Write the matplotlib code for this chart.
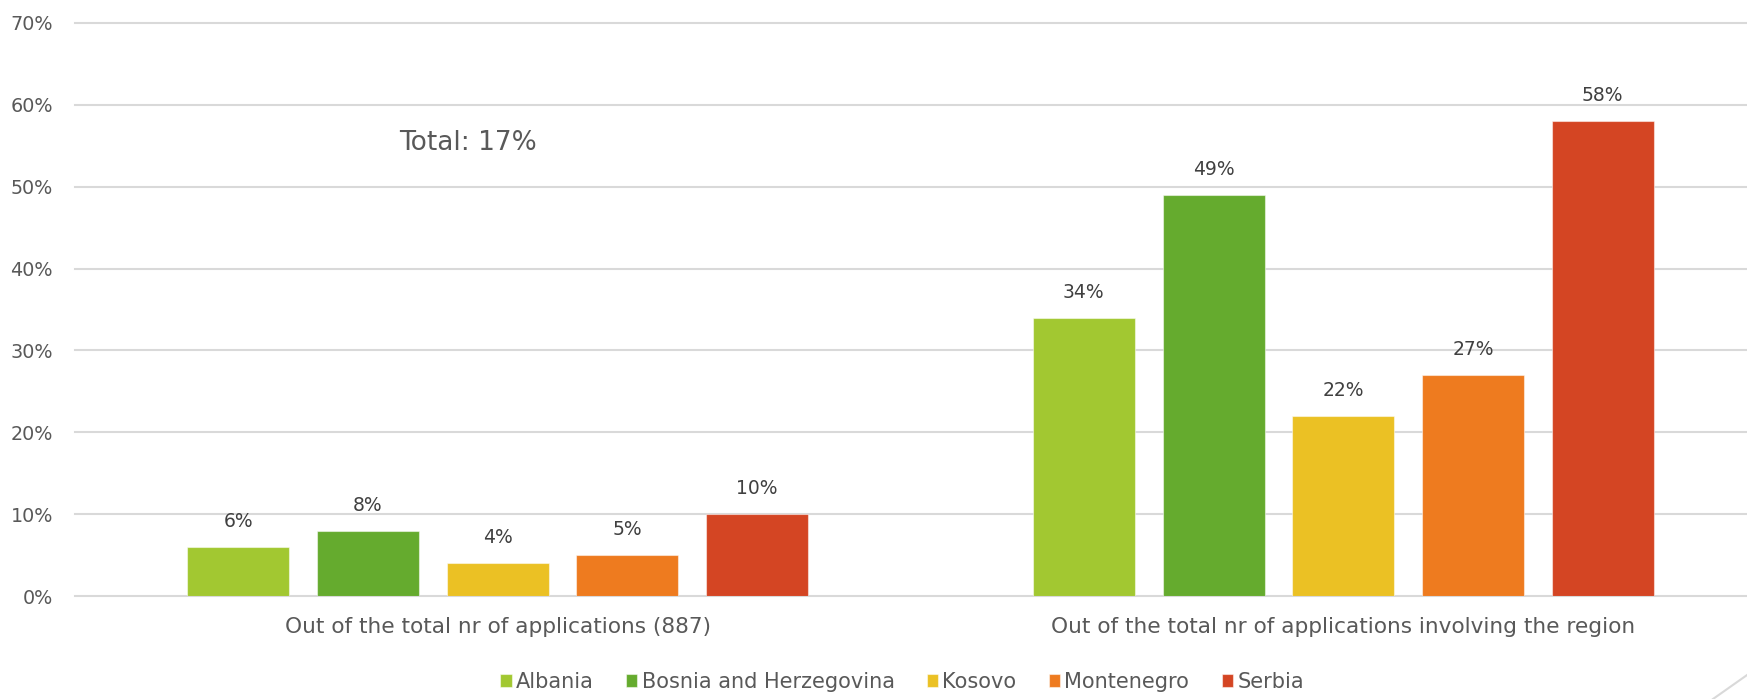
import matplotlib
matplotlib.use("Agg")
import matplotlib.pyplot as plt
from matplotlib import font_manager as fm
from matplotlib.lines import Line2D
import numpy as np

# ---- data ----
categories = ["Out of the total nr of applications (887)",
              "Out of the total nr of applications involving the region"]
countries = ["Albania", "Bosnia and Herzegovina", "Kosovo", "Montenegro", "Serbia"]
albania = [0.06, 0.34]
bosnia = [0.08, 0.49]
kosovo = [0.04, 0.22]
montenegro = [0.05, 0.27]
serbia = [0.10, 0.58]
series = [albania, bosnia, kosovo, montenegro, serbia]
colors = ["#A2C831", "#65AB2E", "#EBC124", "#EE7B1F", "#D44523"]
yticks = [0, 0.1, 0.2, 0.3, 0.4, 0.5, 0.6, 0.7]
total_note = "Total: 17%"

# ---- font ----
plt.rcParams["font.family"] = ["DejaVu Sans"]

W, H = 1747, 699
fig = plt.figure(figsize=(W / 100, H / 100), dpi=100)
ax_left = 75 / W
ax_bottom = (H - 596) / H
ax_top = (H - 23) / H
ax = fig.add_axes([ax_left, ax_bottom, 1 - ax_left, ax_top - ax_bottom])

pitch = 0.1534
width = 0.1206
x = np.arange(len(categories))
for i, (vals, c, name) in enumerate(zip(series, colors, countries)):
    pos = x + (i - 2) * pitch
    bars = ax.bar(pos, vals, width=width, color=c, label=name,
                  edgecolor=(1, 1, 1, 0.5), linewidth=0.8, zorder=3)
    for b, v in zip(bars, vals):
        ax.annotate(f"{round(v*100)}%", (b.get_x() + b.get_width() / 2, v),
                    xytext=(0, 11.5), textcoords="offset points",
                    ha="center", va="bottom", fontsize=13.5, color="#404040")

ax.set_xlim(-0.5, -0.5 + (W - 75) / 845.5)
ax.set_ylim(0, 0.7)
ax.set_yticks(yticks)
ax.set_yticklabels([f"{int(round(t*100))}%" for t in yticks], fontsize=13.8, color="#595959")
ax.set_xticks(x)
ax.set_xticklabels(categories, fontsize=15.6, color="#595959")
ax.tick_params(axis="x", length=0, pad=15)
ax.tick_params(axis="y", length=0, pad=16)
for s in ax.spines.values():
    s.set_visible(False)
ax.yaxis.grid(True, color="#D9D9D9", linewidth=1.5, zorder=0)
for gl in ax.get_ygridlines():
    gl.set_clip_on(False)
ax.set_axisbelow(True)

fig.text(399 / W, (H - 143) / H, total_note, fontsize=19, color="#595959",
         ha="left", va="center")

fig.legend(loc="center", bbox_to_anchor=(902 / W, 17 / H), ncol=5, frameon=False,
           fontsize=15.0, handlelength=0.55, handleheight=0.55, handletextpad=0.2,
           columnspacing=1.55, labelcolor="#595959", borderpad=0)

fig.add_artist(Line2D([1713 / W, 1.0 + 10 / W], [0, 24 / H + 7 / H],
                      transform=fig.transFigure, color="#D9D9D9", linewidth=1.5))

fig.savefig("out.png", dpi=100)
